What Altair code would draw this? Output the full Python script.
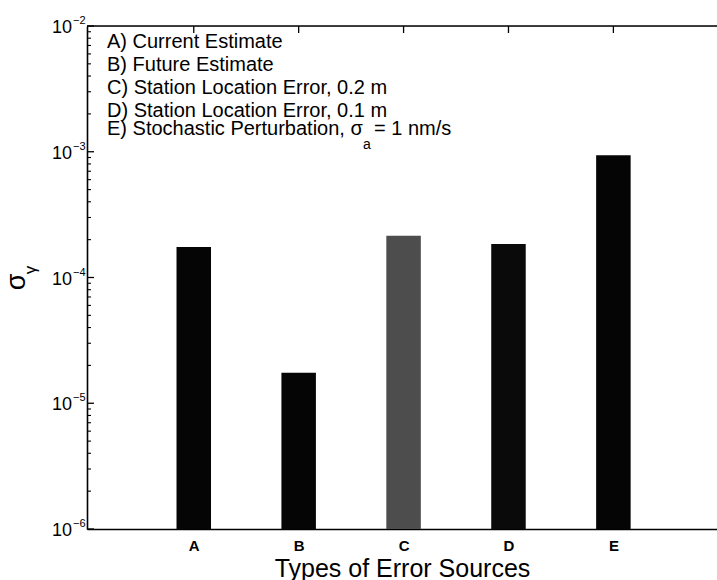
import altair as alt
import pandas as pd

# Bar categories, positions along the x axis and the sigma_gamma values
categories = ["A", "B", "C", "D", "E"]
positions = [1, 2, 3, 4, 5]
sigma_gamma = [1.75e-4, 1.75e-5, 2.15e-4, 1.85e-4, 9.4e-4]
bar_colors = ["#050505", "#050505", "#4d4d4d", "#0a0a0a", "#050505"]

# Log-axis decades and their exponent labels
decades = [1e-6, 1e-5, 1e-4, 1e-3, 1e-2]
exponents = ["\u22126", "\u22125", "\u22124", "\u22123", "\u22122"]
minor_ticks = [k * d for d in decades[:-1] for k in range(2, 10)]

legend_lines = [
    "A) Current Estimate",
    "B) Future Estimate",
    "C) Station Location Error, 0.2 m",
    "D) Station Location Error, 0.1 m",
]

W, H = 630, 503
FONT = "Liberation Sans"

bars_df = pd.DataFrame({"cat": categories, "pos": positions, "value": sigma_gamma})
dec_df = pd.DataFrame({"value": decades, "exp": exponents})
minor_df = pd.DataFrame({"value": minor_ticks})
top_df = pd.DataFrame({"pos": positions})
one = pd.DataFrame({"k": [0]})

xscale = alt.Scale(domain=[0.03, 5.94], nice=False, zero=False)
yscale = alt.Scale(type="log", domain=[1e-6, 1e-2], nice=False)

bars = alt.Chart(bars_df).mark_bar(size=34.5).encode(
    x=alt.X(
        "pos:Q",
        scale=xscale,
        axis=alt.Axis(
            values=positions,
            labelExpr="['', 'A', 'B', 'C', 'D', 'E'][datum.value]",
            ticks=False,
            grid=False,
            domainColor="black",
            domainWidth=1.6,
            labelFontSize=15,
            labelFontWeight="bold",
            labelPadding=9,
            labelColor="black",
            title="Types of Error Sources",
            titleFontSize=25,
            titleFontWeight="normal",
            titleColor="black",
            titlePadding=3,
        ),
    ),
    y=alt.Y(
        "value:Q",
        scale=yscale,
        axis=alt.Axis(
            labels=False,
            ticks=False,
            grid=False,
            domainColor="black",
            domainWidth=1.6,
            title=None,
        ),
    ),
    y2=alt.datum(1e-6),
    color=alt.Color(
        "cat:N",
        scale=alt.Scale(domain=categories, range=bar_colors),
        legend=None,
    ),
)

# Inward-pointing ticks on the left axis
major = alt.Chart(dec_df).mark_rule(color="black", strokeWidth=1.3).encode(
    y=alt.Y("value:Q", scale=yscale),
    x=alt.value(0),
    x2=alt.value(7),
)
minor = alt.Chart(minor_df).mark_rule(color="black", strokeWidth=1.1).encode(
    y=alt.Y("value:Q", scale=yscale),
    x=alt.value(0),
    x2=alt.value(4),
)

# Top frame line with downward ticks at each category
top_line = alt.Chart(one).mark_rule(color="black", strokeWidth=1.5).encode(
    x=alt.value(0), x2=alt.value(W), y=alt.value(0)
)
top_ticks = alt.Chart(top_df).mark_rule(color="black", strokeWidth=1.3).encode(
    x=alt.X("pos:Q", scale=xscale),
    y=alt.value(0),
    y2=alt.value(7),
)

# Decade labels: "10" with a raised exponent
base_lbl = alt.Chart(dec_df).mark_text(
    align="right", baseline="alphabetic", fontSize=18, dy=7, color="black"
).encode(y=alt.Y("value:Q", scale=yscale), x=alt.value(-15), text=alt.value("10"))
exp_lbl = alt.Chart(dec_df).mark_text(
    align="left", baseline="alphabetic", fontSize=11, dy=-2, color="black"
).encode(y=alt.Y("value:Q", scale=yscale), x=alt.value(-14), text="exp:N")

# Y-axis title: sigma with gamma subscript, rotated
sig = alt.Chart(one).mark_text(
    text="\u03c3", angle=270, fontSize=27, align="center", baseline="alphabetic", color="black"
).encode(x=alt.value(-62), y=alt.value(256))
gam = alt.Chart(one).mark_text(
    text="\u03b3", angle=270, fontSize=17, align="center", baseline="alphabetic", color="black"
).encode(x=alt.value(-51), y=alt.value(244))

# Key text in the upper-left corner
legend_df = pd.DataFrame({"line": legend_lines, "row": [22, 45, 68, 91]})
legend_txt = alt.Chart(legend_df).mark_text(
    align="left", baseline="alphabetic", fontSize=20, color="black"
).encode(x=alt.value(20), y=alt.Y("row:Q", scale=None), text="line:N")

e_main = alt.Chart(one).mark_text(
    text="E) Stochastic Perturbation, \u03c3", align="left", baseline="alphabetic",
    fontSize=20, color="black",
).encode(x=alt.value(20), y=alt.value(109))
e_sub = alt.Chart(one).mark_text(
    text="a", align="left", baseline="alphabetic", fontSize=14, color="black"
).encode(x=alt.value(276), y=alt.value(123))
e_rest = alt.Chart(one).mark_text(
    text="= 1 nm/s", align="left", baseline="alphabetic", fontSize=20, color="black"
).encode(x=alt.value(287), y=alt.value(109))

chart = alt.layer(
    bars, major, minor, top_line, top_ticks, base_lbl, exp_lbl, sig, gam,
    legend_txt, e_main, e_sub, e_rest,
).properties(
    width=W,
    height=H,
    autosize=alt.AutoSizeParams(type="none"),
    padding={"left": 87, "top": 26, "right": 0, "bottom": 51},
    background="white",
).configure_view(stroke=None).configure(font=FONT)

chart.save("out.html", embed_options={"renderer": "svg", "actions": False})
